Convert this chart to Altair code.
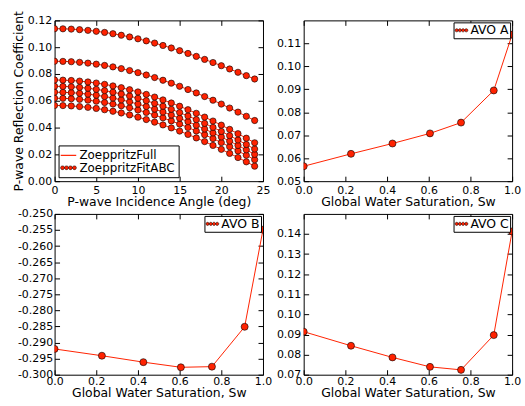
import math
import altair as alt
import pandas as pd

# ---------------- data ----------------
angles = list(range(25))

rc_1 = [0.0565, 0.05641, 0.05614, 0.05570, 0.05508, 0.05429, 0.05332, 0.05218, 0.05088, 0.04941,
        0.04778, 0.04599, 0.04406, 0.04197, 0.03974, 0.03738, 0.03489, 0.03227, 0.02954, 0.02670,
        0.02376, 0.02073, 0.01762, 0.01443, 0.01119]
rc_2 = [0.0619, 0.06181, 0.06154, 0.06110, 0.06047, 0.05967, 0.05870, 0.05755, 0.05624, 0.05475,
        0.05311, 0.05131, 0.04935, 0.04725, 0.04499, 0.04261, 0.04008, 0.03743, 0.03467, 0.03179,
        0.02880, 0.02573, 0.02256, 0.01932, 0.01601]
rc_3 = [0.0664, 0.06631, 0.06604, 0.06559, 0.06496, 0.06416, 0.06317, 0.06202, 0.06069, 0.05920,
        0.05755, 0.05573, 0.05375, 0.05163, 0.04936, 0.04694, 0.04439, 0.04172, 0.03892, 0.03600,
        0.03298, 0.02986, 0.02665, 0.02336, 0.01999]
rc_4 = [0.0708, 0.07071, 0.07044, 0.06999, 0.06935, 0.06854, 0.06756, 0.06640, 0.06506, 0.06356,
        0.06189, 0.06006, 0.05806, 0.05593, 0.05365, 0.05121, 0.04864, 0.04594, 0.04312, 0.04017,
        0.03712, 0.03397, 0.03072, 0.02738, 0.02397]
rc_5 = [0.0755, 0.07541, 0.07514, 0.07469, 0.07405, 0.07324, 0.07226, 0.07110, 0.06977, 0.06826,
        0.06660, 0.06477, 0.06278, 0.06064, 0.05835, 0.05592, 0.05335, 0.05065, 0.04782, 0.04488,
        0.04182, 0.03866, 0.03541, 0.03207, 0.02866]
rc_6 = [0.0895, 0.08941, 0.08915, 0.08872, 0.08811, 0.08734, 0.08640, 0.08529, 0.08401, 0.08258,
        0.08099, 0.07924, 0.07735, 0.07532, 0.07314, 0.07083, 0.06840, 0.06585, 0.06318, 0.06041,
        0.05754, 0.05458, 0.05155, 0.04844, 0.04528]
rc_7 = [0.1138, 0.11372, 0.11349, 0.11310, 0.11256, 0.11187, 0.11103, 0.11005, 0.10892, 0.10765,
        0.10625, 0.10471, 0.10306, 0.10128, 0.09940, 0.09740, 0.09532, 0.09314, 0.09088, 0.08856,
        0.08617, 0.08374, 0.08127, 0.07877, 0.07626]

sw = [0.0, 0.227, 0.426, 0.606, 0.755, 0.912, 1.0]
avo_a = [0.0565, 0.0619, 0.0664, 0.0708, 0.0755, 0.0895, 0.1138]
avo_b = [-0.2920, -0.2941, -0.2961, -0.2977, -0.2975, -0.2851, -0.2549]
avo_c = [0.0914, 0.0844, 0.0786, 0.0739, 0.0724, 0.0897, 0.1413]

curve_names = ["ZoeppritzFull", "ZoeppritzFitABC"]

x_ticks_angle = [0, 5, 10, 15, 20, 25]
y_ticks_rc = [0.0, 0.02, 0.04, 0.06, 0.08, 0.10, 0.12]
x_ticks_sw = [0.0, 0.2, 0.4, 0.6, 0.8, 1.0]
y_ticks_a = [0.05, 0.06, 0.07, 0.08, 0.09, 0.10, 0.11]
y_ticks_b = [-0.300, -0.295, -0.290, -0.285, -0.280, -0.275, -0.270, -0.265, -0.260, -0.255, -0.250]
y_ticks_c = [0.07, 0.08, 0.09, 0.10, 0.11, 0.12, 0.13, 0.14]

# ---------------- tables ----------------
rows = []
for i, curve in enumerate([rc_1, rc_2, rc_3, rc_4, rc_5, rc_6, rc_7]):
    for a, v in zip(angles, curve):
        rows.append({"angle": a, "rc": v, "curve": i})
df_rc = pd.DataFrame(rows)

df_a = pd.DataFrame({"sw": sw, "v": avo_a})
df_b = pd.DataFrame({"sw": sw, "v": avo_b})
df_c = pd.DataFrame({"sw": sw, "v": avo_c})

# ---------------- style ----------------
RED = "#ff2200"
FONT = "DejaVu Sans"
W, H = 210, 162
TICK = 5


def dots_path(start, step, r, n=4):
    parts = []
    for k in range(n):
        cx = start + step * k
        pts = [(cx + r * math.cos(2 * math.pi * j / 10), r * math.sin(2 * math.pi * j / 10)) for j in range(10)]
        parts.append("M" + "L".join(f"{x:.3f},{y:.3f}" for x, y in pts) + "Z")
    return "".join(parts)


LINE_SYM_W = "M-1.3,0L1.3,0"
DOTS_W = dots_path(-1.0, 0.667, 0.33)
DOTS = dots_path(-0.75, 0.5, 0.25)


def tick_axis(orient, values):
    return alt.Axis(orient=orient, values=values, offset=-TICK, tickSize=TICK, labels=False,
                    domain=False, grid=False, tickColor="black", tickWidth=1)


def label_axis(orient, values, expr, pad, tpad):
    return alt.Axis(orient=orient, values=values, labelExpr=expr, ticks=False, domain=False,
                    grid=False, labelPadding=pad, labelOverlap=False, labelFlush=False,
                    labelBound=False, titlePadding=tpad)


def curve_legend_layer(df, field, names):
    leg = alt.Legend(title=None, orient="bottom-left", offset=4, padding=3, rowPadding=0,
                     labelOffset=4, symbolOpacity=1, symbolSize=144, labelFontSize=12)
    return alt.Chart(df).transform_filter("false").mark_point(filled=True, size=144, opacity=1).encode(
        shape=alt.Shape(f"{field}:N", scale=alt.Scale(domain=names, range=[LINE_SYM_W, DOTS_W]), legend=leg),
        stroke=alt.Stroke(f"{field}:N", scale=alt.Scale(domain=names, range=[RED, "black"]), legend=leg),
        fill=alt.Fill(f"{field}:N", scale=alt.Scale(domain=names, range=["transparent", RED]), legend=leg),
        strokeWidth=alt.StrokeWidth(f"{field}:N", scale=alt.Scale(domain=names, range=[1.2, 0.5]), legend=leg),
    )


def avo_legend_layer(df, field, name):
    leg = alt.Legend(title=None, orient="top-right", offset=2, padding=1, rowPadding=0, labelOffset=2,
                     symbolOpacity=1, symbolSize=169, symbolType=DOTS, symbolStrokeColor="black",
                     symbolStrokeWidth=0.5, symbolFillColor=RED, labelFontSize=12.5)
    return alt.Chart(df).transform_filter("false").mark_point(
        filled=True, size=169, opacity=1, stroke="black", strokeWidth=0.5).encode(
        fill=alt.Fill(f"{field}:N", scale=alt.Scale(domain=[name], range=[RED]), legend=leg),
    )


def panel(df, xf, yf, xdom, ydom, xvals, yvals, xexpr, yexpr, xtitle, ytitle, legend,
          xpad, ypad, xtpad, detail=None, size=42):
    xs = alt.Scale(domain=xdom, nice=False, zero=False)
    ys = alt.Scale(domain=ydom, nice=False, zero=False)
    base = alt.Chart(df)
    line_enc = dict(
        x=alt.X(f"{xf}:Q", scale=xs, axis=label_axis("bottom", xvals, xexpr, xpad, xtpad), title=xtitle),
        y=alt.Y(f"{yf}:Q", scale=ys, axis=label_axis("left", yvals, yexpr, ypad, 2), title=ytitle),
    )
    if detail:
        line_enc["detail"] = alt.Detail(f"{detail}:N")
    line = base.mark_line(color=RED, strokeWidth=1, clip=True).encode(**line_enc)
    pts = base.mark_point(filled=True, fill=RED, stroke="black", strokeWidth=0.6, size=size,
                          fillOpacity=1, opacity=1, clip=True).encode(
        x=alt.X(f"{xf}:Q", scale=xs, axis=tick_axis("bottom", xvals), title=None),
        y=alt.Y(f"{yf}:Q", scale=ys, axis=tick_axis("left", yvals), title=None),
    )
    ghost = base.mark_point(opacity=0, clip=True).encode(
        x=alt.X(f"{xf}:Q", scale=xs, axis=tick_axis("top", xvals), title=None),
        y=alt.Y(f"{yf}:Q", scale=ys, axis=tick_axis("right", yvals), title=None),
    )
    return alt.layer(line, pts, ghost, legend).resolve_axis(x="independent", y="independent").properties(
        width=W, height=H)


fmt2 = "format(datum.value, '.2f')"
fmt1 = "format(datum.value, '.1f')"
fmt0 = "format(datum.value, 'd')"
fmt3 = "(datum.value < 0 ? '-' : '') + format(abs(datum.value), '.3f')"

tl = panel(df_rc, "angle", "rc", [0, 25], [0, 0.12], x_ticks_angle, y_ticks_rc, fmt0, fmt2,
           "P-wave Incidence Angle (deg)", "P-wave Reflection Coefficient",
           curve_legend_layer(df_rc, "s_tl", curve_names), 3, 3, 1, detail="curve", size=40)
tr = panel(df_a, "sw", "v", [0, 1], [0.05, 0.12], x_ticks_sw, y_ticks_a, fmt1, fmt2,
           "Global Water Saturation, Sw", None, avo_legend_layer(df_a, "s_a", "AVO A"), 3, 3, 1, size=50)
bl = panel(df_b, "sw", "v", [0, 1], [-0.300, -0.250], x_ticks_sw, y_ticks_b, fmt1, fmt3,
           "Global Water Saturation, Sw", None, avo_legend_layer(df_b, "s_b", "AVO B"), 1, 2, 0, size=50)
br = panel(df_c, "sw", "v", [0, 1], [0.07, 0.15], x_ticks_sw, y_ticks_c, fmt1, fmt2,
           "Global Water Saturation, Sw", None, avo_legend_layer(df_c, "s_c", "AVO C"), 1, 3, 0, size=50)

chart = alt.concat(
    tl, tr, bl, br, columns=2, spacing=alt.RowColnumber(row=33, column=41), bounds="flush"
).resolve_scale(
    shape="independent", stroke="independent", fill="independent", strokeWidth="independent"
).properties(
    padding={"left": 12, "top": 8, "right": 3, "bottom": 5},
    background="white",
).configure_view(
    stroke="black", strokeWidth=1
).configure_axis(
    labelFont=FONT, labelFontSize=11, labelColor="black",
    titleFont=FONT, titleFontSize=12.5, titleFontWeight="normal", titleColor="black",
).configure_legend(
    labelFont=FONT, labelFontSize=11, labelColor="black",
    strokeColor="black", fillColor="white", cornerRadius=0,
)

chart.save("out.html", embed_options={"renderer": "svg", "actions": False})
